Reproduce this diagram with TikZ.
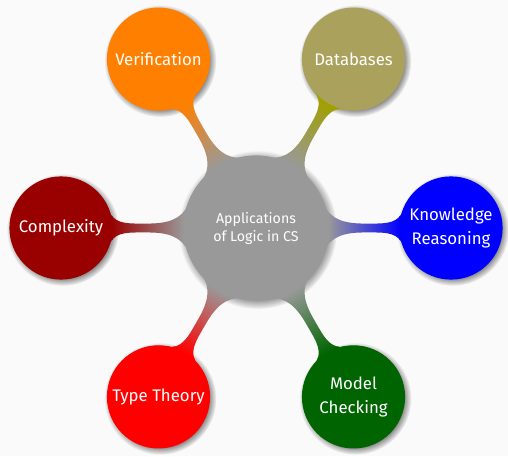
\documentclass[tikz,border=0pt]{standalone}
\usepackage{fontspec}
\setmainfont{Fira Sans}
\usetikzlibrary{mindmap,shadows}
\definecolor{pagebg}{HTML}{FAFAFA}
\definecolor{rootgray}{HTML}{999999}
\definecolor{verif}{RGB}{255,128,0}
\definecolor{dbbar}{RGB}{160,160,0}
\definecolor{dbfill}{RGB}{170,162,92}
\definecolor{knowblue}{RGB}{0,0,255}
\definecolor{mcgreen}{RGB}{0,100,0}
\definecolor{ttred}{RGB}{255,0,0}
\definecolor{cxred}{RGB}{153,0,0}
\begin{document}
\begin{tikzpicture}[x=1pt,y=1pt,
  mindmap,
  every concept/.append style={circular drop shadow, text=white},
  rootconcept/.style={concept, minimum size=144pt, text width={}, align=center,
    font=\fontsize{14.2}{18}\selectfont},
  level 1 concept/.append style={level distance=195pt, minimum size=102pt,
    text width={}, align=center, font=\fontsize{16.8}{24}\selectfont}]
  % page background and fixed frame
  \path[use as bounding box, fill=pagebg] (0,0) rectangle (508,-456);
  \path[concept color=rootgray]
    node[rootconcept] (root) at (256,-228) {Applications\\of Logic in CS}
    child[grow=120, concept color=verif] {node[concept] (verif) {Verification}}
    child[grow=60, concept color=dbbar] {node[concept, fill=dbfill, draw=dbfill] (db) {Databases}}
    child[grow=0, concept color=knowblue] {node[concept] (know) {Knowledge\\Reasoning}}
    child[grow=-60, concept color=mcgreen] {node[concept] (mc) {Model\\Checking}}
    child[grow=-120, concept color=ttred] {node[concept] (tt) {Type Theory}}
    child[grow=180, concept color=cxred] {node[concept] (cx) {Complexity}};
\end{tikzpicture}
\end{document}
